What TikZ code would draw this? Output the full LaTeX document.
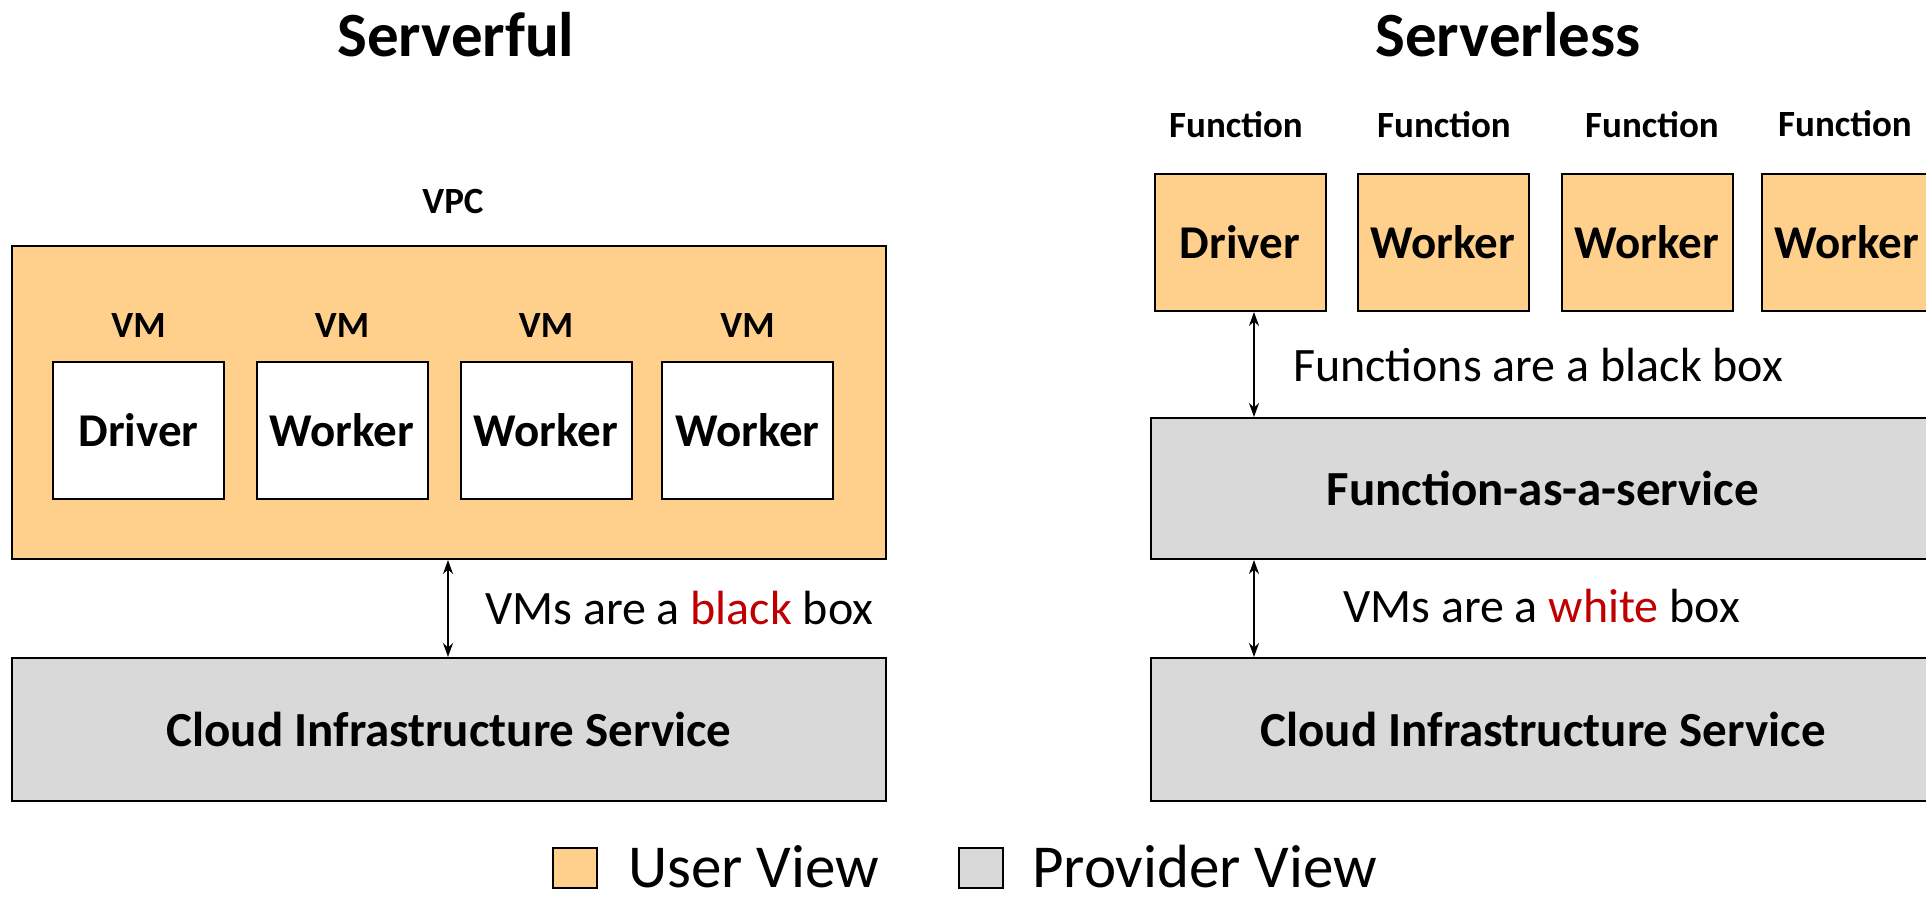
\documentclass[tikz,border=0pt]{standalone}
\usepackage{fontspec}
\setmainfont{Carlito}
\usetikzlibrary{arrows.meta}
\definecolor{userc}{HTML}{FFD08C}
\definecolor{provc}{HTML}{D9D9D9}
\definecolor{redc}{HTML}{C00000}
\newcommand{\fsz}[1]{\fontsize{#1}{#1}\selectfont}
\tikzset{
  box/.style={draw=black, line width=2pt, inner sep=0pt, align=center},
  userbox/.style={box, fill=userc},
  provbox/.style={box, fill=provc},
  unitbox/.style={box, minimum width=171pt, minimum height=137pt, font=\fsz{47}\bfseries},
  lbl/.style={inner sep=0pt, font=\fsz{37}\bfseries},
  title/.style={inner sep=0pt, font=\fsz{63}\bfseries},
  note/.style={inner sep=0pt, font=\fsz{48}, anchor=west},
  bigtxt/.style={font=\fsz{49}\bfseries},
  dbl/.style={{Stealth[length=14pt,width=10pt]}-{Stealth[length=14pt,width=10pt]}, line width=1.8pt},
}
\begin{document}
\begin{tikzpicture}[x=1pt,y=-1pt]
\useasboundingbox (0,0) rectangle (1926,903);
% titles
\node[title] (t1) at (456,35) {Serverful};
\node[title] (t2) at (1508,35) {Serverless};
% ---------- left ----------
\node[lbl] (vpcl) at (453,201) {VPC};
\node[userbox, minimum width=874pt, minimum height=313pt] (vpc) at (449,402.5) {};
\node[unitbox, fill=white] (d1) at (138.5,430.5) {Driver};
\node[unitbox, fill=white] (w1) at (342,430.5) {Worker};
\node[unitbox, fill=white] (w2) at (546,430.5) {Worker};
\node[unitbox, fill=white] (w3) at (747.5,430.5) {Worker};
\node[lbl] (vm1) at (138.5,325) {VM};
\node[lbl] (vm2) at (342,325) {VM};
\node[lbl] (vm3) at (546,325) {VM};
\node[lbl] (vm4) at (747.5,325) {VM};
\node[provbox, minimum width=874pt, minimum height=143pt, bigtxt] (cloudL) at (449,729.5) {Cloud Infrastructure Service};
\coordinate (aL) at (448,0);
\draw[dbl] (vpc.south -| aL) -- (cloudL.north -| aL);
\node[note] (nL) at (485,608) {VMs are a \textcolor{redc}{black} box};
% ---------- right ----------
\node[unitbox, userbox, minimum width=171pt, minimum height=137pt] (fd) at (1240,242.5) {Driver};
\node[unitbox, userbox, minimum width=171pt, minimum height=137pt] (fw1) at (1443,242.5) {Worker};
\node[unitbox, userbox, minimum width=171pt, minimum height=137pt] (fw2) at (1647,242.5) {Worker};
\node[unitbox, userbox, minimum width=171pt, minimum height=137pt] (fw3) at (1847,242.5) {Worker};
\node[lbl] (f1) at (1236,125) {Function};
\node[lbl] (f2) at (1444,125) {Function};
\node[lbl] (f3) at (1652,125) {Function};
\node[lbl] (f4) at (1845,124) {Function};
\node[provbox, minimum width=784pt, minimum height=141pt, bigtxt] (faas) at (1543,488.5) {Function-as-a-service};
\node[provbox, minimum width=784pt, minimum height=143pt, bigtxt] (cloudR) at (1543,729.5) {Cloud Infrastructure Service};
\coordinate (aR) at (1254,0);
\draw[dbl] (fd.south -| aR) -- (faas.north -| aR);
\draw[dbl] (faas.south -| aR) -- (cloudR.north -| aR);
\node[note] (nR1) at (1293,365) {Functions are a black box};
\node[note] (nR2) at (1343,606) {VMs are a \textcolor{redc}{white} box};
% ---------- legend ----------
\node[box, line width=1.5pt, fill=userc, minimum width=44pt, minimum height=40pt] (lu) at (575,868) {};
\node[note, font=\fsz{61}] (lut) at (628,867) {User View};
\node[box, line width=1.5pt, fill=provc, minimum width=44pt, minimum height=40pt] (lp) at (981,868) {};
\node[note, font=\fsz{61}] (lpt) at (1032,867) {Provider View};
\end{tikzpicture}
\end{document}
